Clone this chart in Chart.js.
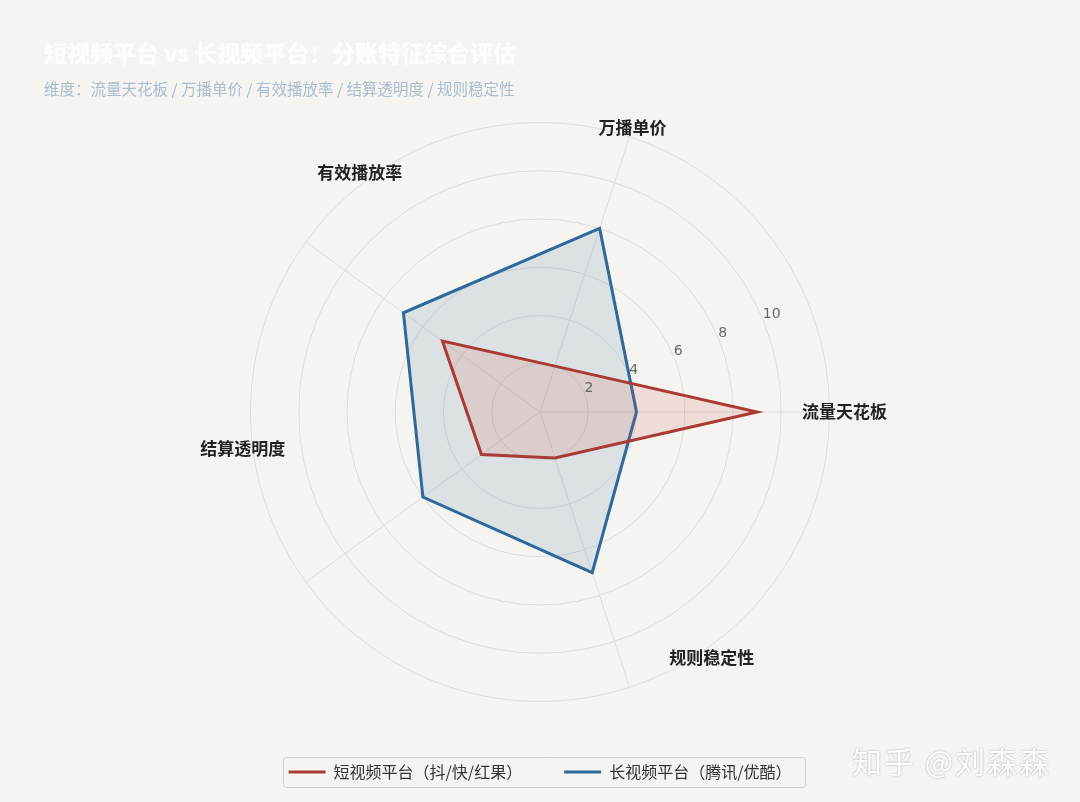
<!DOCTYPE html>
<html>
<head>
<meta charset="utf-8">
<script src="https://cdn.jsdelivr.net/npm/chart.js@4.4.1/dist/chart.umd.min.js"></script>
<style>
  html, body { margin: 0; padding: 0; background: #f5f4f0; }
  #wrap { position: relative; width: 1080px; height: 802px; }
  #title { position: absolute; left: 44px; top: 35px; font: bold 23px "Noto Sans CJK SC", sans-serif; color: #ffffff; }
  #sub { position: absolute; left: 44px; top: 77px; font: 15.5px "Noto Sans CJK SC", sans-serif; color: #a9bdd1; }
  #mark { position: absolute; left: 852px; top: 738px; font: 30px "Noto Sans CJK SC", sans-serif; color: #ffffff;
          text-shadow: 0 0 2px rgba(0,0,0,0.35); letter-spacing: 2px; }
</style>
</head>
<body>
<div id="wrap">
  <canvas id="radar" width="1080" height="802"></canvas>
  <div id="title">短视频平台 vs 长视频平台：分账特征综合评估</div>
  <div id="sub">维度：流量天花板 / 万播单价 / 有效播放率 / 结算透明度 / 规则稳定性</div>
  <div id="mark">知乎 @刘森森</div>
</div>
<script>
  // dimensions in reading order (counter-clockwise from the right)
  const dimensions = ['流量天花板', '万播单价', '有效播放率', '结算透明度', '规则稳定性'];
  const shortVideo = [9, 2, 5, 3, 2];
  const longVideo = [4, 8, 7, 6, 7];
  const seriesNames = ['短视频平台（抖/快/红果）', '长视频平台（腾讯/优酷）'];
  const rTicks = [2, 4, 6, 8, 10];

  // where the original put its axis titles (degrees, counter-clockwise from the right)
  const labelAngles = [0, 72, 127, 187, 305];

  // Chart.js goes clockwise, the original goes counter-clockwise
  const ccw = arr => [arr[0], ...arr.slice(1).reverse()];

  const polarText = {
    id: 'polarText',
    afterDatasetsDraw(chart) {
      const s = chart.scales.r;
      const ctx = chart.ctx;
      ctx.save();
      // radial tick labels along 22.5 deg
      const a = 22.5 * Math.PI / 180;
      ctx.font = '14px "DejaVu Sans", sans-serif';
      ctx.fillStyle = '#666';
      ctx.textAlign = 'left';
      ctx.textBaseline = 'bottom';
      rTicks.forEach(v => {
        const d = s.getDistanceFromCenterForValue(v);
        ctx.fillText(String(v), s.xCenter + d * Math.cos(a), s.yCenter - d * Math.sin(a) + 2);
      });
      // axis titles, centred just outside the outer ring
      ctx.font = 'bold 17px "Noto Sans CJK SC", sans-serif';
      ctx.fillStyle = '#222';
      ctx.textAlign = 'center';
      ctx.textBaseline = 'middle';
      const rl = s.getDistanceFromCenterForValue(s.max) + 10;
      dimensions.forEach((name, i) => {
        const t = labelAngles[i] * Math.PI / 180;
        const x = s.xCenter + rl * Math.cos(t) + (i === 0 ? 5 : 0);
        ctx.fillText(name, x, s.yCenter - rl * Math.sin(t));
      });
      ctx.restore();
    }
  };

  const legendBox = {
    id: 'legendBox',
    afterDraw(chart) {
      const boxes = chart.legend.legendHitBoxes;
      if (!boxes || !boxes.length) return;
      const last = boxes[boxes.length - 1];
      const l = Math.round(boxes[0].left - 6);
      const r = Math.round(last.left + last.width + 14);
      const t = Math.round(boxes[0].top - 7);
      const b = Math.round(boxes[0].top + boxes[0].height + 7);
      const ctx = chart.ctx;
      ctx.save();
      ctx.strokeStyle = '#cfcfcf';
      ctx.lineWidth = 1;
      ctx.beginPath();
      ctx.roundRect(l + 0.5, t + 0.5, r - l, b - t, 3);
      ctx.stroke();
      ctx.restore();
    }
  };

  new Chart(document.getElementById('radar'), {
    type: 'radar',
    data: {
      labels: ccw(dimensions),
      datasets: [
        {
          label: seriesNames[0],
          data: ccw(shortVideo),
          borderColor: '#a93a35',
          backgroundColor: 'rgba(205, 90, 70, 0.15)',
          borderWidth: 3,
          pointRadius: 0,
          fill: true
        },
        {
          label: seriesNames[1],
          data: ccw(longVideo),
          borderColor: '#2f699c',
          backgroundColor: 'rgba(80, 120, 160, 0.15)',
          borderWidth: 3,
          pointRadius: 0,
          fill: true
        }
      ]
    },
    options: {
      responsive: false,
      animation: false,
      layout: { padding: { top: 103, bottom: 12, left: 20, right: 20 } },
      elements: { line: { tension: 0 } },
      scales: {
        r: {
          min: 0,
          max: 12,
          startAngle: 90,
          ticks: { display: false, stepSize: 2 },
          grid: { circular: true, color: '#dcdcdc', lineWidth: 1 },
          angleLines: { color: '#dcdcdc', lineWidth: 1 },
          pointLabels: {
            color: 'rgba(0,0,0,0)',
            padding: 14,
            font: { family: '"Noto Sans CJK SC", sans-serif', size: 17, weight: 'bold' }
          }
        }
      },
      plugins: {
        legend: {
          position: 'bottom',
          labels: {
            usePointStyle: true,
            pointStyle: 'line',
            pointStyleWidth: 37,
            padding: 42,
            color: '#333',
            font: { family: '"Noto Sans CJK SC", sans-serif', size: 16 }
          }
        },
        tooltip: { enabled: false }
      }
    },
    plugins: [polarText, legendBox]
  });
</script>
</body>
</html>
